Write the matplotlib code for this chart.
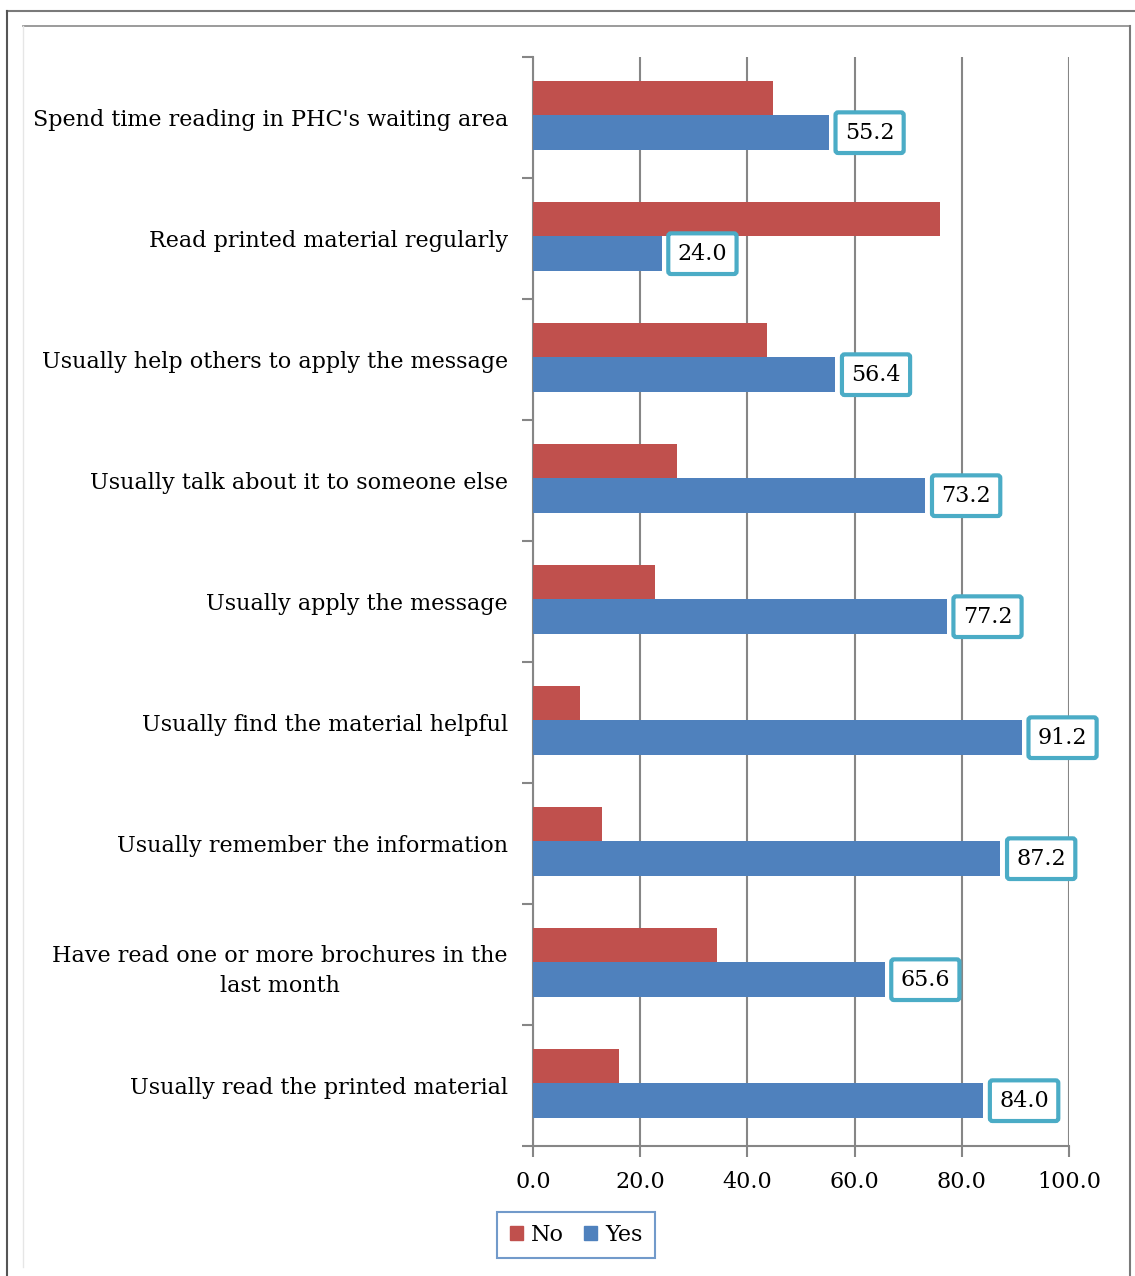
import matplotlib
matplotlib.use("Agg")
import matplotlib.pyplot as plt
from matplotlib.lines import Line2D
from matplotlib.patches import Patch
import numpy as np

categories = [
    "Spend time reading in PHC's waiting area",
    "Read printed material regularly",
    "Usually help others to apply the message",
    "Usually talk about it to someone else",
    "Usually apply the message",
    "Usually find the material helpful",
    "Usually remember the information",
    "Have read one or more brochures in the\nlast month",
    "Usually read the printed material",
]
yes_values = [55.2, 24.0, 56.4, 73.2, 77.2, 91.2, 87.2, 65.6, 84.0]
no_values = [44.8, 76.0, 43.6, 26.8, 22.8, 8.8, 12.8, 34.4, 16.0]
x_ticks = [0, 20, 40, 60, 80, 100]

RED = "#C0504D"
BLUE = "#4F81BD"
TEAL = "#4BACC6"
GRID = "#868686"

plt.rcParams['font.family'] = ['DejaVu Serif']
FS = 16

W, H = 1135, 1276
fig = plt.figure(figsize=(W / 100, H / 100), dpi=100)

def fx(px):
    return px / W

def fy(py):
    return 1 - py / H

ax = fig.add_axes([fx(533), fy(1146), fx(1069) - fx(533), fy(57) - fy(1146)])

y = np.arange(len(categories))
bh = 0.285
shift = -0.017
ax.barh(y - bh / 2 + shift, no_values, height=bh, color=RED, zorder=3, label="No")
ax.barh(y + bh / 2 + shift, yes_values, height=bh, color=BLUE, zorder=3, label="Yes")

for yi, v in zip(y, yes_values):
    ax.annotate(f"{v:.1f}", xy=(v, yi + bh / 2 + shift), xytext=(11.5, 0), textcoords="offset points",
                ha="left", va="center", fontsize=FS, zorder=5,
                bbox=dict(boxstyle="round,pad=0.42,rounding_size=0.12", fc="white", ec=TEAL, lw=3))

ax.set_xlim(0, 100)
ax.set_ylim(len(categories) - 0.5, -0.5)
ax.set_xticks(x_ticks)
ax.set_xticklabels([f"{t:.1f}" for t in x_ticks], fontsize=FS)
ax.set_yticks(y)
ax.set_yticklabels(categories, fontsize=FS, multialignment="center", linespacing=1.45)
ax.set_yticks(np.arange(-0.5, len(categories), 1.0), minor=True)
ax.tick_params(axis="y", which="major", length=0, pad=18)
ax.tick_params(axis="y", which="minor", length=8, width=1.5, color=GRID, direction="out")
ax.tick_params(axis="x", length=8, width=1.5, color=GRID, direction="out", pad=10)
ax.xaxis.grid(True, color=GRID, lw=1.5, zorder=0)
ax.set_axisbelow(True)
for s in ["top", "right"]:
    ax.spines[s].set_visible(False)
for s in ["left", "bottom"]:
    ax.spines[s].set_color(GRID)
    ax.spines[s].set_linewidth(1.5)

handles = [Patch(color=RED, label="No"), Patch(color=BLUE, label="Yes")]
leg = fig.legend(handles=handles, loc="center", bbox_to_anchor=(fx(576), fy(1235)), ncol=2,
                 fontsize=FS, frameon=True, fancybox=False, handlelength=0.6, handleheight=0.6,
                 handletextpad=0.35, columnspacing=0.9, borderpad=0.55)
leg.get_frame().set_edgecolor(BLUE)
leg.get_frame().set_linewidth(1.5)

# frames
fig.add_artist(Line2D([fx(7), fx(1135)], [fy(11), fy(11)], color="#7a7a7a", lw=1.5))
fig.add_artist(Line2D([fx(7), fx(7)], [fy(11), fy(1276)], color="#555555", lw=1.5))
fig.add_artist(Line2D([fx(23), fx(1130)], [fy(26), fy(26)], color="#8a8a8a", lw=1.2))
fig.add_artist(Line2D([fx(1130), fx(1130)], [fy(26), fy(1276)], color="#7a7a7a", lw=1.5))
fig.add_artist(Line2D([fx(23), fx(23)], [fy(26), fy(1267)], color="#e6e6e6", lw=1.0))

fig.savefig("out.png", dpi=100)
